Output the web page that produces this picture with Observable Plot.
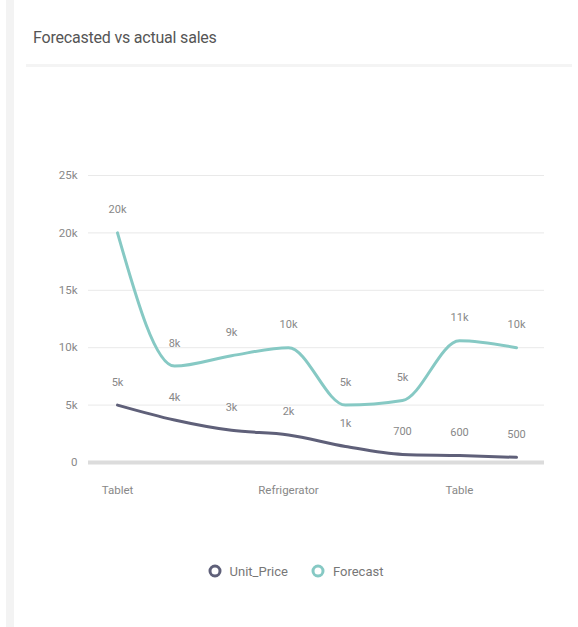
<!DOCTYPE html>
<html>
<head>
<meta charset="utf-8">
<script src="https://cdn.jsdelivr.net/npm/d3@7"></script>
<script src="https://cdn.jsdelivr.net/npm/@observablehq/plot@0.6"></script>
<style>
  html, body { margin: 0; padding: 0; background: #fff; }
  body { width: 578px; height: 627px; overflow: hidden; font-family: Roboto, "Noto Sans", sans-serif; }
  #card { position: absolute; left: 6px; top: 0; width: 572px; height: 627px; border-left: 8px solid #f3f3f3; box-sizing: border-box; }
  #title { position: absolute; left: 33px; top: 28px; font-size: 16px; color: #555; letter-spacing: -0.2px; }
  #divider { position: absolute; left: 26px; right: 6px; top: 64px; height: 3px; background: #f4f4f4; }
  #chart { position: absolute; left: 0; top: 70px; }
  #legend { position: absolute; left: 0; width: 590px; top: 563px; display: flex; justify-content: center; gap: 22px; font-size: 13px; color: #777; }
  #legend span.item { display: inline-flex; align-items: center; gap: 7px; }
</style>
</head>
<body>
<div id="card"></div>
<div id="title">Forecasted vs actual sales</div>
<div id="divider"></div>
<div id="chart"></div>
<div id="legend"></div>
<script>
const categories = ["Tablet", "Laptop", "Phone", "Refrigerator", "Microwave", "Chair", "Table", "Sofa"];
const unitPrice = [5000, 3700, 2800, 2400, 1400, 700, 600, 450];
const forecast = [20000, 8400, 9300, 10000, 5000, 5400, 10600, 10000];
const shownTicks = ["Tablet", "Refrigerator", "Table"];
const yTicks = [0, 5000, 10000, 15000, 20000, 25000];
const seriesNames = ["Unit_Price", "Forecast"];
const seriesColors = ["#5f6079", "#86c9c4"];

const rows = [];
categories.forEach((c, i) => {
  rows.push({category: c, series: "Unit_Price", value: unitPrice[i]});
  rows.push({category: c, series: "Forecast", value: forecast[i]});
});

const fmtTick = v => v === 0 ? "0" : (v / 1000) + "k";
const fmtLabel = v => v >= 1000 ? Math.round(v / 1000) + "k" : String(Math.round(v / 100) * 100);

const chart = Plot.plot({
  width: 578,
  height: 440,
  marginLeft: 88,
  marginRight: 34,
  marginTop: 105,
  marginBottom: 48,
  style: {fontFamily: "Roboto, 'Noto Sans', sans-serif", fontSize: "11px", color: "#888", background: "transparent"},
  x: {type: "point", domain: categories, padding: 0.5, label: null},
  y: {domain: [0, 25000], label: null},
  color: {domain: seriesNames, range: seriesColors},
  marks: [
    Plot.gridY(yTicks, {stroke: "#e9e9e9", strokeOpacity: 1, strokeWidth: 1}),
    Plot.ruleY([0], {stroke: "#dcdcdc", strokeWidth: 4}),
    Plot.axisY({ticks: yTicks, tickFormat: fmtTick, tickSize: 0, tickPadding: 11, fill: "#888", fontSize: 11.5}),
    Plot.axisX({ticks: shownTicks, tickSize: 0, tickPadding: 23, fill: "#888", fontSize: 11.5}),
    Plot.lineY(rows, {x: "category", y: "value", z: "series", stroke: "series", strokeWidth: 3, curve: "monotone-x"}),
    Plot.text(rows, {x: "category", y: "value", text: d => fmtLabel(d.value), dy: -23, fill: "#888", fontSize: 11})
  ]
});
document.getElementById("chart").appendChild(chart);

const legend = document.getElementById("legend");
seriesNames.forEach((name, i) => {
  const item = document.createElement("span");
  item.className = "item";
  item.innerHTML = `<svg width="16" height="16"><circle cx="8" cy="8" r="5" fill="none" stroke="${seriesColors[i]}" stroke-width="3"/></svg><span>${name}</span>`;
  legend.appendChild(item);
});
</script>
</body>
</html>
